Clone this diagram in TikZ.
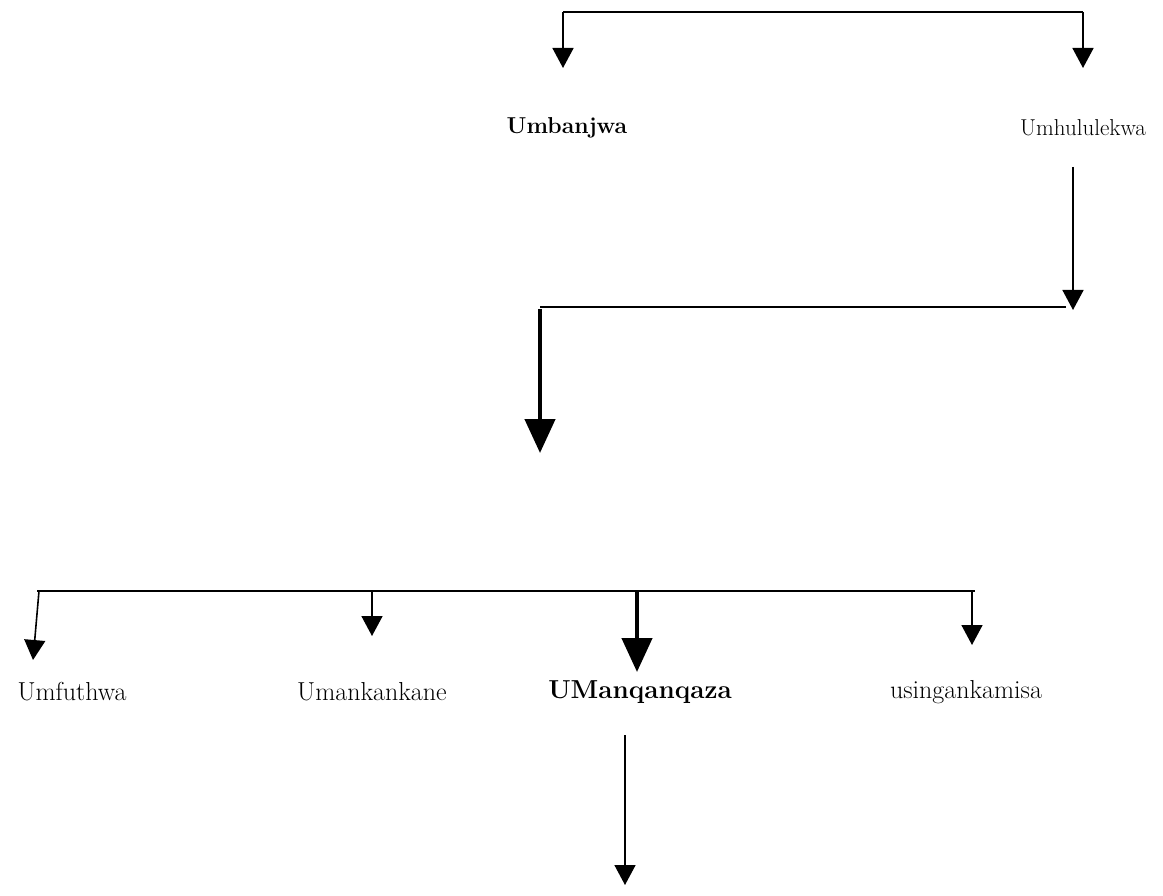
\documentclass[tikz,border=0pt]{standalone}
\usepackage{tikz}
\usetikzlibrary{arrows.meta}

\begin{document}
\begin{tikzpicture}[x=1pt,y=-1pt,font=\fontsize{23}{27}\selectfont]
      \tikzstyle{every label}=[inner sep=2pt]
      \tikzstyle{low label}=[inner sep=2pt,font=\fontsize{26}{30}\selectfont]
      \tikzstyle{thin arrow}=[line width=1.6pt,-{Triangle[length=20pt,width=21pt]}]
      \tikzstyle{thick arrow}=[line width=4.5pt,-{Triangle[length=34pt,width=30pt]}]
      \useasboundingbox (0,0) rectangle (1163,896);

      % Top level: split into two
      \node[every label] (L-banj) at (567,128) {\textbf{Umbanjwa}};
      \node[every label] (L-hulu) at (1083,128) {Umhululekwa};
      \coordinate (T-l) at (563,12);
      \coordinate (T-r) at (1083,12);
      \coordinate (T-la) at (563,68);
      \coordinate (T-ra) at (1083,68);
      \draw[line width=1.6pt] (T-l) -- (T-r);
      \draw[thin arrow] (T-l) -- (T-la);
      \draw[thin arrow] (T-r) -- (T-ra);

      % Umhululekwa down and back to the left
      \coordinate (M-s) at (1073,167);
      \coordinate (M-e) at (1073,310);
      \coordinate (M-r) at (1066,307);
      \coordinate (M-l) at (540,307);
      \coordinate (M-d) at (540,453);
      \draw[thin arrow] (M-s) -- (M-e);
      \draw[line width=1.6pt] (M-r) -- (M-l);
      \draw[thick arrow] ([yshift=-2pt]M-l) -- (M-d);

      % Bottom level: four labels
      \node[low label] (B-1) at (72,692) {Umfuthwa};
      \node[low label] (B-2) at (372,692) {Umankankane};
      \node[low label] (B-3) at (640,692) {\textbf{UManqanqaza}};
      \node[low label] (B-4) at (966,692) {usingankamisa};
      \coordinate (H-l) at (37,591);
      \coordinate (H-r) at (975,591);
      \draw[line width=1.6pt] (H-l) -- (H-r);
      \coordinate (H-1) at (39,591);
      \coordinate (A-1) at (33,660);
      \draw[thin arrow] (H-1) -- (A-1);
      \foreach \i/\x/\y in {2/372/636,4/972/645} {
        \coordinate (H-\i) at (\x,591);
        \coordinate (A-\i) at (\x,\y);
        \draw[thin arrow] (H-\i) -- (A-\i);
      }
      \coordinate (H-3) at (637,591);
      \coordinate (A-3) at (637,672);
      \draw[thick arrow] (H-3) -- (A-3);

      % Below UManqanqaza
      \coordinate (U-s) at (625,735);
      \coordinate (U-e) at (625,885);
      \draw[thin arrow] (U-s) -- (U-e);
\end{tikzpicture}
\end{document}
